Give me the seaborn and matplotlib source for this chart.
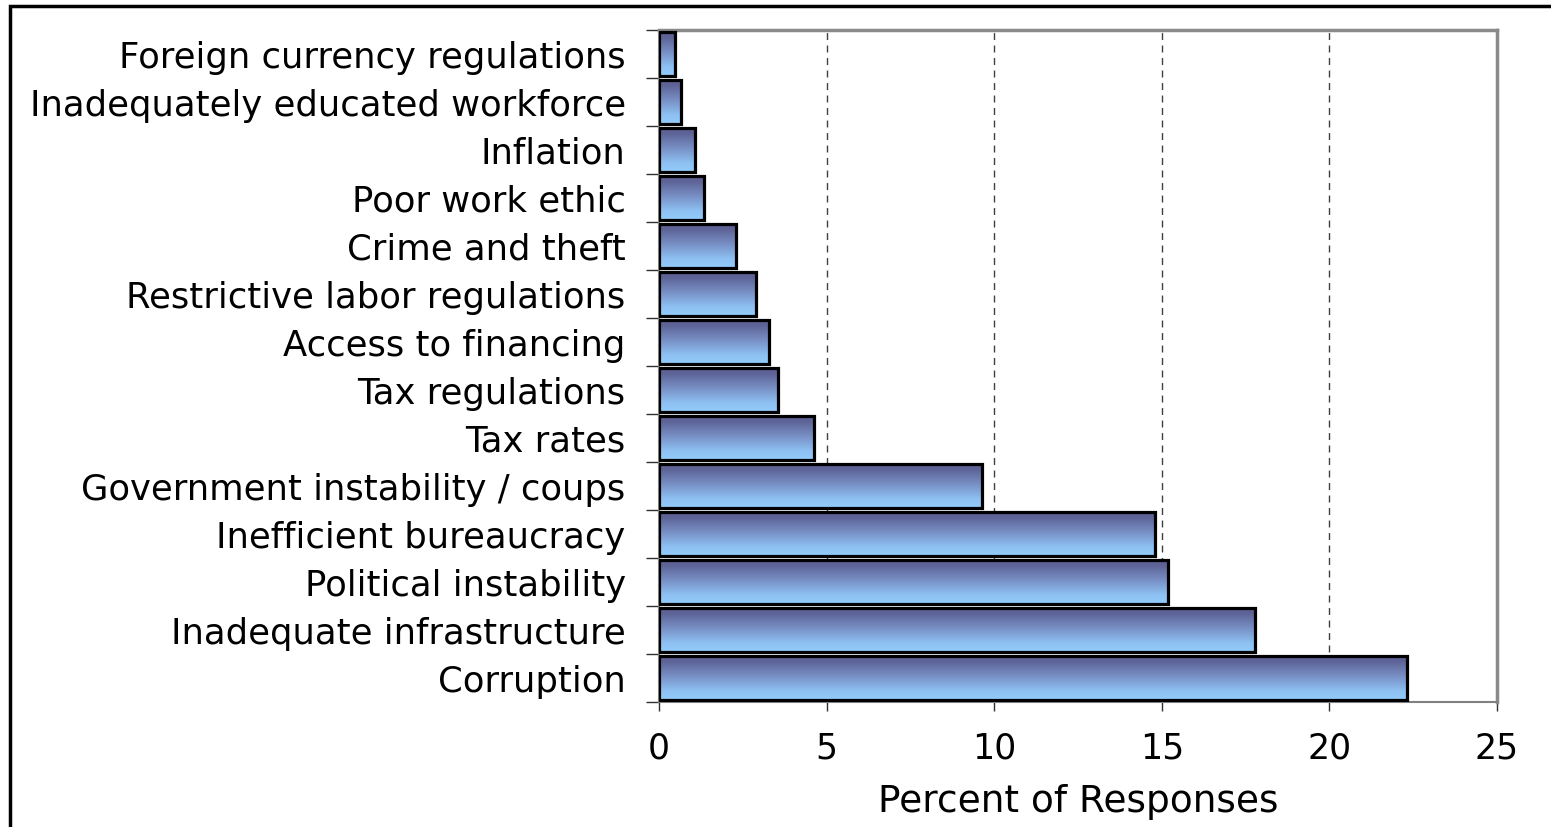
import matplotlib
matplotlib.use("Agg")
import matplotlib.pyplot as plt
import seaborn as sns
import numpy as np
import pandas as pd
from matplotlib.colors import LinearSegmentedColormap
from matplotlib.patches import Rectangle

categories = [
    "Foreign currency regulations",
    "Inadequately educated workforce",
    "Inflation",
    "Poor work ethic",
    "Crime and theft",
    "Restrictive labor regulations",
    "Access to financing",
    "Tax regulations",
    "Tax rates",
    "Government instability / coups",
    "Inefficient bureaucracy",
    "Political instability",
    "Inadequate infrastructure",
    "Corruption",
]
values = [0.49, 0.67, 1.06, 1.35, 2.31, 2.90, 3.29, 3.56, 4.63, 9.63, 14.81, 15.19, 17.78, 22.31]
x_ticks = [0, 5, 10, 15, 20, 25]
x_label = "Percent of Responses"

df = pd.DataFrame({"category": categories, "value": values})

sns.set_style("white")
plt.rcParams["font.family"] = ["DejaVu Sans"]

fig = plt.figure(figsize=(15.51, 8.27), dpi=100)
ax = fig.add_axes([659 / 1551, 1 - 702 / 827, (1497 - 659) / 1551, (702 - 30) / 827])

sns.barplot(data=df, x="value", y="category", orient="h", ax=ax,
            color="white", edgecolor="black", linewidth=2.3, width=0.92)

cmap = LinearSegmentedColormap.from_list(
    "barGrad", [(0.0, "#5b5b90"), (0.15, "#5f6498"), (0.5, "#7a94c9"),
                (0.8, "#8ec1f3"), (1.0, "#93cbfb")])
grad = np.linspace(0, 1, 256).reshape(-1, 1)
for p in ax.patches:
    p.set_facecolor("none")
    p.set_zorder(3)
    x0, y0 = p.get_x(), p.get_y()
    w, h = p.get_width(), p.get_height()
    im = ax.imshow(grad, cmap=cmap, aspect="auto", origin="upper",
                   extent=(x0, x0 + w, y0 + h, y0), zorder=2.5,
                   interpolation="bilinear")
    im.set_clip_path(p)

ax.set_xlim(0, 25)
ax.set_ylim(len(categories) - 0.5, -0.5)
ax.set_xticks(x_ticks)
ax.set_xticklabels([str(t) for t in x_ticks])

# gridlines
ax.set_axisbelow(True)
for t in x_ticks[1:-1]:
    ax.axvline(t, color="#404040", linestyle=(0, (5, 4)), linewidth=1.0, zorder=1)

# ticks
ax.set_yticks(np.arange(len(categories)))
ax.set_yticks(np.arange(-0.5, len(categories), 1.0), minor=True)
ax.tick_params(axis="y", which="major", length=0, pad=24, labelsize=25.5, labelcolor="black")
ax.tick_params(axis="y", which="minor", length=9.5, width=1.0, color="#303030", left=True)
ax.tick_params(axis="x", which="major", length=6.5, width=1.0, color="#303030",
               pad=15, labelsize=25, labelcolor="black", bottom=True)

ax.set_ylabel("")
ax.set_xlabel(x_label, fontsize=27, labelpad=13, color="black")

for side in ["left", "bottom"]:
    ax.spines[side].set_color("#808080")
    ax.spines[side].set_linewidth(1.5)
for side in ["top", "right"]:
    ax.spines[side].set_color("#8a8a8a")
    ax.spines[side].set_linewidth(2.5)

# figure border (top and left visible)
fig.patches.append(Rectangle((9.5 / 1551, -0.2), 2.0, 1.2 - 6.5 / 827,
                             transform=fig.transFigure, fill=False,
                             edgecolor="black", linewidth=2.5))

fig.savefig("out.png", dpi=100)
